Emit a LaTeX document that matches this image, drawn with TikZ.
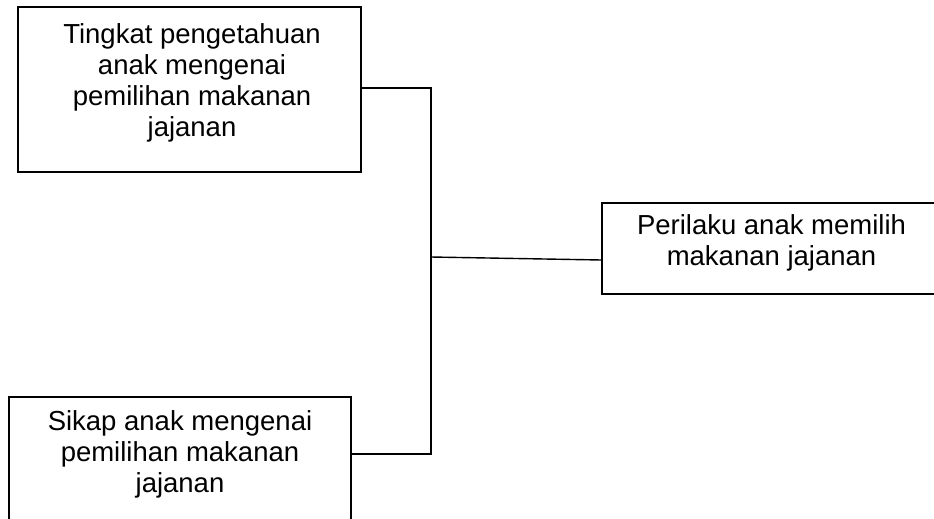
\documentclass[tikz,border=0pt]{standalone}
\usepackage{fontspec}
\setmainfont{Liberation Sans}
\begin{document}
\begin{tikzpicture}[x=1pt,y=-1pt,
  framebox/.style={draw=black,line width=1.4pt,inner sep=0pt,rectangle},
  boxtext/.style={align=center,inner sep=0pt,anchor=base,
    font=\fontsize{27.5}{31}\selectfont},
  wire/.style={draw=black,line width=1.4pt}]
\useasboundingbox (0,0) rectangle (934,519);
% frames
\node[framebox,minimum width=343pt,minimum height=165pt] (k1) at (189.5,89.5) {};
\node[framebox,minimum width=342pt,minimum height=140pt] (k2) at (180,467) {};
\node[framebox,minimum width=339pt,minimum height=91pt] (k3) at (771.5,248.5) {};
% labels (anchored at the baseline of their last line)
\node[boxtext] (t1) at (192,136) {Tingkat pengetahuan\\anak mengenai\\pemilihan makanan\\jajanan};
\node[boxtext] (t2) at (180,492) {Sikap anak mengenai\\pemilihan makanan\\jajanan};
\node[boxtext] (t3) at (771.5,265) {Perilaku anak memilih\\makanan jajanan};
% junction points
\coordinate (jt) at (431,88);
\coordinate (jb) at (431,454);
\coordinate (jm) at (431,257);
% connectors
\draw[wire] (k1.east |- jt) -- (jt) -- (jb) -- (k2.east |- jb);
\draw[wire] (jm) -- ([yshift=-11.5pt]k3.west);
\end{tikzpicture}
\end{document}
